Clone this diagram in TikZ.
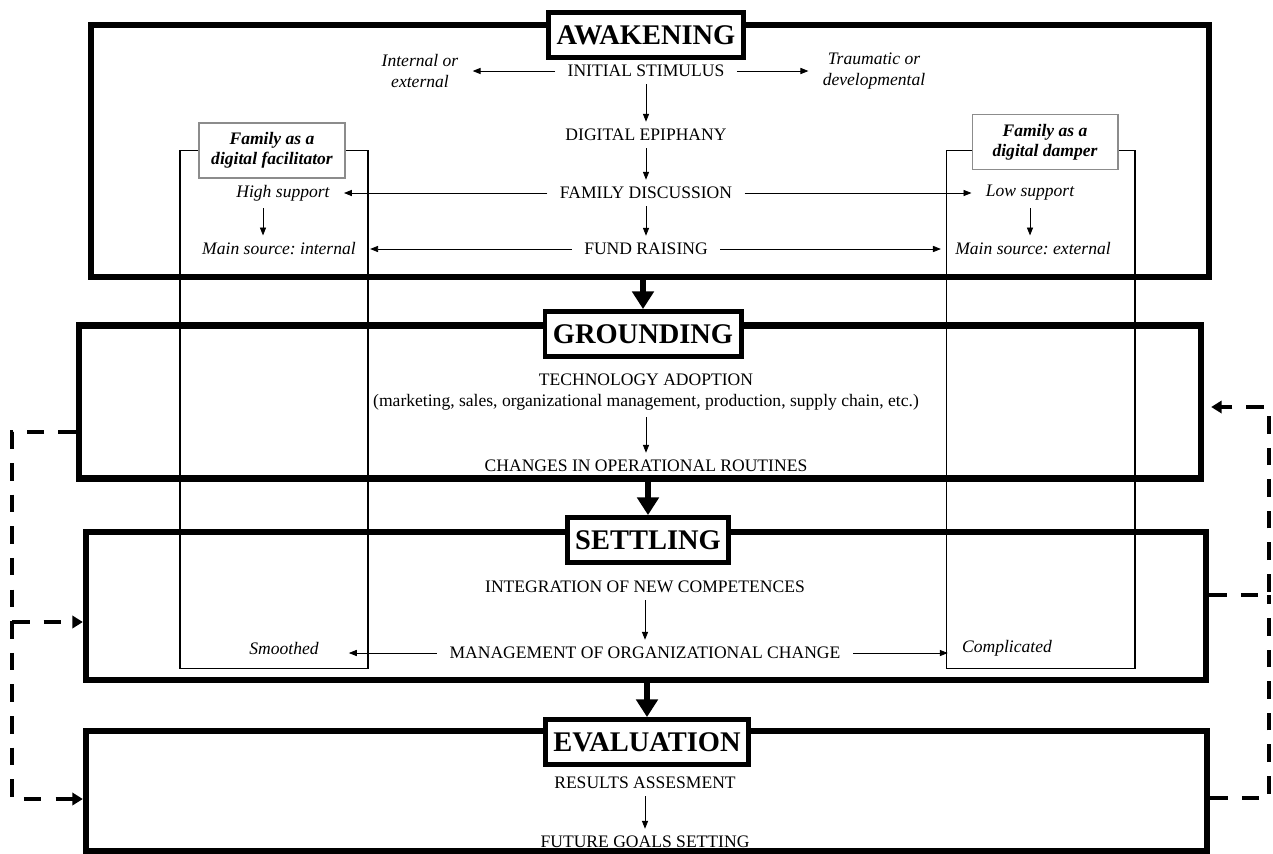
\documentclass[tikz,border=0pt]{standalone}
\usepackage{fontspec}
\setmainfont{Liberation Serif}
\usetikzlibrary{arrows.meta}
\frenchspacing

\begin{document}
\begin{tikzpicture}[x=0.02cm,y=-0.02cm,
    phase/.style={draw,line width=3.7pt,inner sep=0},
    phasetitle/.style={draw,line width=2.8pt,fill=white,inner xsep=4.5pt,minimum height=0.9cm,font=\titlefontsize\bfseries},
    famcol/.style={draw,line width=0.6pt,inner sep=0},
    fambox/.style={draw=black!45,line width=0.6pt,fill=white,align=center,inner sep=0,minimum width=2.92cm,minimum height=1.1cm,font=\textfontsize\bfseries\itshape},
    stage/.style={inner sep=0,align=center,font=\textfontsize},
    aside/.style={inner sep=0,align=center,font=\textfontsize\itshape},
    flow/.style={-{Triangle[length=4.5pt,width=3.5pt]},line width=0.45pt,shorten <=7pt,shorten >=8pt},
    vflow/.style={flow,shorten <=4pt,shorten >=4pt},
    bigflow/.style={-{Triangle[length=10pt,width=12pt]},line width=3pt},
    feedback/.style={dash pattern=on 10pt off 8pt,line width=2pt,-{Triangle[length=6pt,width=7pt]}},
]
    \providecommand{\titlefontsize}{\fontsize{16.2pt}{18pt}\selectfont}
    \providecommand{\textfontsize}{\fontsize{10pt}{11.5pt}\selectfont}
    \useasboundingbox (0,0) rectangle (1273,853);

    % family columns, behind everything
    \node[famcol,minimum width=3.76cm,minimum height=10.366cm] (facol) at (274,409.85) {};
    \node[famcol,minimum width=3.78cm,minimum height=10.366cm] (dacol) at (1040.5,409.85) {};

    % the four phases
    \node[phase,minimum width=22.36cm,minimum height=5.04cm] (awk) at (650,151) {};
    \node[phase,minimum width=22.44cm,minimum height=3.07cm] (grd) at (640,402) {};
    \node[phase,minimum width=22.4cm,minimum height=2.96cm] (stl) at (646,606) {};
    \node[phase,minimum width=22.42cm,minimum height=2.4cm] (evl) at (646.5,791) {};

    \node[phasetitle] (awkt) at (646,35) {AWAKENING};
    \node[phasetitle] (grdt) at (643,334) {GROUNDING};
    \node[phasetitle] (stlt) at (648,540) {SETTLING};
    \node[phasetitle] (evlt) at (647,742) {EVALUATION};

    \draw[bigflow] (awk.south -| grdt.north) -- (grdt.north);
    \draw[bigflow] (grd.south -| stlt.north) -- (stlt.north);
    \draw[bigflow] (stl.south -| evlt.north) -- (evlt.north);

    \node[fambox] (facil) at (272,150.5) {Family as a\\digital facilitator};
    \node[fambox] (damper) at (1045,142) {Family as a\\digital damper};

    % awakening
    \node[stage] (stim) at (646,71) {INITIAL STIMULUS};
    \node[stage] (epiph) at (646,135) {DIGITAL EPIPHANY};
    \node[stage] (disc) at (646,193) {FAMILY DISCUSSION};
    \node[stage] (fund) at (646,249) {FUND RAISING};
    \node[aside] (intext) at (420,71) {Internal or\\external};
    \node[aside] (traum) at (874,71) {Traumatic or\\developmental};
    \node[aside] (hisup) at (283,193) {High support};
    \node[aside] (intsrc) at (279,249) {Main source: internal};
    \node[aside] (losup) at (1030,193) {Low support};
    \node[aside] (extsrc) at (1033,249) {Main source: external};

    \draw[vflow] (stim) -- (epiph);
    \draw[vflow] (epiph) -- (disc);
    \draw[vflow] (disc) -- (fund);
    \draw[flow] (stim) -- (intext);
    \draw[flow] (stim) -- (traum);
    \draw[flow] (disc) -- (hisup);
    \draw[flow] (disc) -- (losup);
    \draw[flow] (fund) -- (intsrc);
    \draw[flow] (fund) -- (extsrc);
    \draw[vflow] ([xshift=-0.4cm]hisup.south) -- ([xshift=-0.4cm]hisup.south |- intsrc.north);
    \draw[vflow] (losup.south) -- (losup.south |- extsrc.north);

    % grounding
    \node[stage] (adopt) at (646,392) {TECHNOLOGY ADOPTION\\(marketing, sales, organizational management, production, supply chain, etc.)};
    \node[stage] (routine) at (646,466) {CHANGES IN OPERATIONAL ROUTINES};
    \draw[vflow] (adopt) -- (routine);

    % settling
    \node[stage] (integ) at (645,587) {INTEGRATION OF NEW COMPETENCES};
    \node[stage] (manage) at (645,653) {MANAGEMENT OF ORGANIZATIONAL CHANGE};
    \node[aside] (smooth) at (284,648) {Smoothed};
    \node[aside] (compl) at (1007,648) {Complicated};
    \draw[vflow] (integ) -- (manage);
    \draw[flow,shorten >=17pt] (manage.west) -- (manage.west -| smooth.east);
    \draw[flow] (manage.east) -- (manage.east -| compl.west);

    % evaluation
    \node[stage] (results) at (645,783) {RESULTS ASSESMENT};
    \node[stage] (goals) at (645,842) {FUTURE GOALS SETTING};
    \draw[vflow] (results) -- (goals);

    % feedback loops
    \coordinate (lrail) at (12,0);
    \coordinate (rrail) at (1269,0);
    \coordinate (gw) at ([yshift=-0.6cm]grd.west);
    \coordinate (sw) at ([yshift=-0.32cm]stl.west);
    \coordinate (ew) at ([yshift=-0.16cm]evl.west);
    \coordinate (ge) at ([yshift=-0.1cm]grd.east);
    \coordinate (se) at ([yshift=0.22cm]stl.east);
    \coordinate (ee) at ([yshift=-0.14cm]evl.east);
    \draw[feedback] (gw) -| (lrail |- ew) -- (ew);
    \draw[feedback] (lrail |- sw) -- (sw);
    \draw[feedback,shorten >=4pt] (se) -| (rrail |- ge) -- (ge);
    \draw[feedback,-] (ee) -| (rrail |- se);
\end{tikzpicture}
\end{document}
